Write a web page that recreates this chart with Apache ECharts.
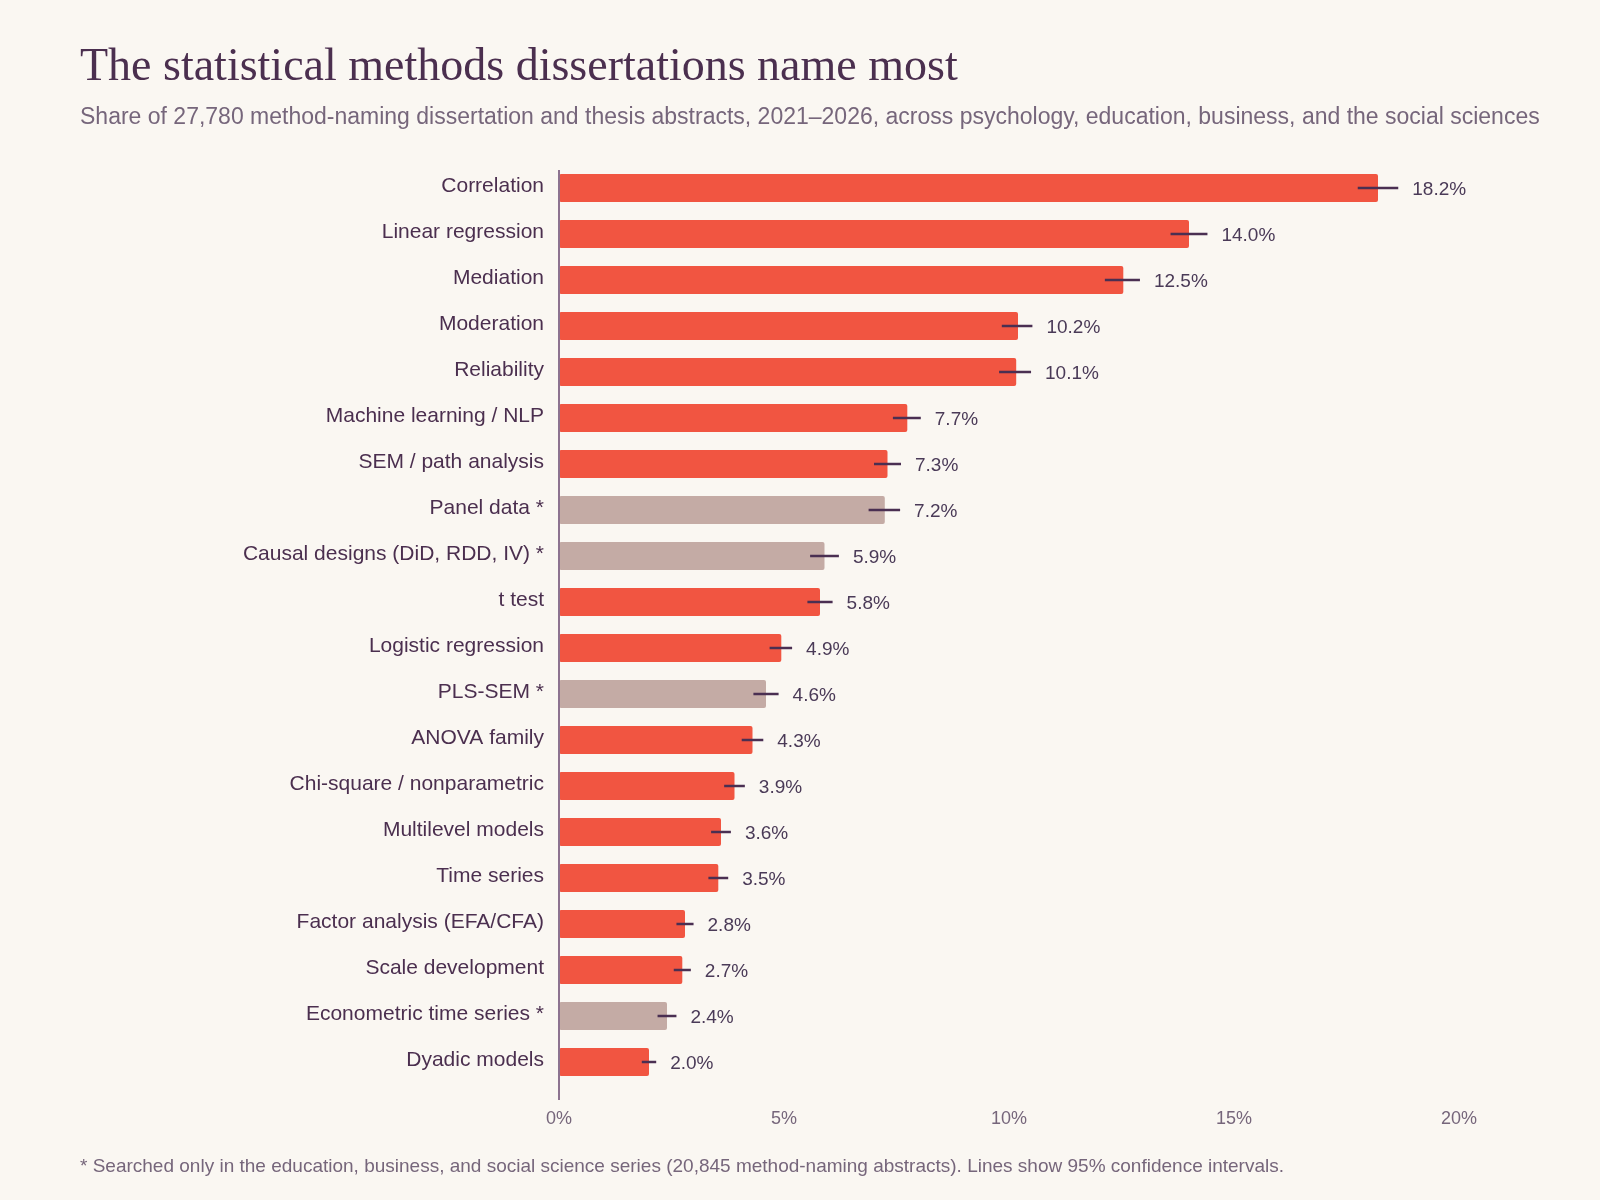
<!DOCTYPE html>
<html>
<head>
<meta charset="utf-8">
<script src="https://cdn.jsdelivr.net/npm/echarts@6/dist/echarts.min.js"></script>
<style>
  html, body { margin: 0; padding: 0; background: #faf7f2; }
  #chart { width: 1600px; height: 1200px; }
</style>
</head>
<body>
<div id="chart"></div>
<script>
// ---- data (top-level named arrays) ----
const categories = [
  "Correlation", "Linear regression", "Mediation", "Moderation", "Reliability",
  "Machine learning / NLP", "SEM / path analysis", "Panel data *",
  "Causal designs (DiD, RDD, IV) *", "t test", "Logistic regression", "PLS-SEM *",
  "ANOVA family", "Chi-square / nonparametric", "Multilevel models", "Time series",
  "Factor analysis (EFA/CFA)", "Scale development", "Econometric time series *", "Dyadic models"
];
// bar lengths (unrounded estimates)
const shares = [18.2, 14.0, 12.54, 10.2, 10.16, 7.74, 7.3, 7.24, 5.9, 5.8, 4.94, 4.6, 4.3, 3.9, 3.6, 3.54, 2.8, 2.74, 2.4, 2.0];
// printed value labels
const shareLabels = ["18.2%", "14.0%", "12.5%", "10.2%", "10.1%", "7.7%", "7.3%", "7.2%", "5.9%", "5.8%", "4.9%", "4.6%", "4.3%", "3.9%", "3.6%", "3.5%", "2.8%", "2.7%", "2.4%", "2.0%"];
const ciLow  = [17.75, 13.59, 12.13, 9.84, 9.78, 7.42, 7.0, 6.88, 5.58, 5.52, 4.68, 4.32, 4.06, 3.67, 3.38, 3.32, 2.61, 2.55, 2.19, 1.84];
const ciHigh = [18.65, 14.41, 12.91, 10.52, 10.49, 8.04, 7.6, 7.58, 6.22, 6.08, 5.18, 4.88, 4.54, 4.13, 3.82, 3.76, 2.99, 2.93, 2.61, 2.16];
const subsetOnly = [false, false, false, false, false, false, false, true, true, false, false, true, false, false, false, false, false, false, true, false];
const xTicks = [0, 5, 10, 15, 20];

const titleText = "The statistical methods dissertations name most";
const subtitleText = "Share of 27,780 method-naming dissertation and thesis abstracts, 2021\u20132026, across psychology, education, business, and the social sciences";
const footnoteText = "* Searched only in the education, business, and social science series (20,845 method-naming abstracts). Lines show 95% confidence intervals.";

// ---- styles ----
const RED = "#f15541";
const GREY = "#c4aba5";
const INK = "#4b2f4f";
const MUTED = "#76667b";
const SANS = "'Liberation Sans', Arial, sans-serif";

const chart = echarts.init(document.getElementById('chart'));

const barData = shares.map((v, i) => ({
  value: v,
  itemStyle: { color: subsetOnly[i] ? GREY : RED }
}));
const ciData = shares.map((v, i) => [i, ciLow[i], ciHigh[i], v]);

function renderCI(params, api) {
  const idx = api.value(0);
  const lo = api.coord([api.value(1), idx]);
  const hi = api.coord([api.value(2), idx]);
  return {
    type: 'group',
    children: [
      { type: 'line', shape: { x1: lo[0], y1: lo[1], x2: hi[0], y2: hi[1] },
        style: { stroke: "#4a2f52", lineWidth: 2.5 } },
      { type: 'text', x: hi[0] + 14, y: hi[1] + 2,
        style: { text: shareLabels[params.dataIndex], fill: "#4a3a57", font: "19px " + SANS,
                 verticalAlign: 'middle', align: 'left' } }
    ]
  };
}

chart.setOption({
  backgroundColor: "#faf7f2",
  animation: false,
  title: [
    { text: titleText, left: 80, top: 45, padding: 0,
      textStyle: { fontFamily: "'Liberation Serif', 'Times New Roman', serif", fontSize: 46, fontWeight: 'normal', color: INK } },
    { text: subtitleText, left: 80, top: 106, padding: 0,
      textStyle: { fontFamily: SANS, fontSize: 23, fontWeight: 'normal', color: MUTED } },
    { text: footnoteText, left: 80, top: 1157, padding: 0,
      textStyle: { fontFamily: SANS, fontSize: 19, fontWeight: 'normal', color: MUTED } }
  ],
  grid: { left: 559, right: 141, top: 165, bottom: 115, containLabel: false },
  xAxis: {
    type: 'value', min: xTicks[0], max: xTicks[xTicks.length - 1], interval: 5,
    axisLine: { show: false }, axisTick: { show: false }, splitLine: { show: false },
    axisLabel: { formatter: '{value}%', color: MUTED, fontFamily: SANS, fontSize: 18, margin: 25 }
  },
  yAxis: {
    type: 'category', data: categories, inverse: true,
    axisLine: { show: false },
    axisTick: { show: false },
    axisLabel: {
      margin: 15,
      formatter: (v) => '{c|' + v + '}',
      rich: { c: { color: INK, fontFamily: SANS, fontSize: 21, padding: [0, 0, 3.5, 0] } }
    }
  },
  series: [
    { type: 'bar', data: barData, barWidth: 28, itemStyle: { borderRadius: 2 } },
    { type: 'custom', renderItem: renderCI, data: ciData,
      encode: { x: [1, 2], y: 0 }, z: 5 }
  ]
});

// vertical baseline at 0%, extended slightly beyond the category band
const x0 = chart.convertToPixel({ xAxisIndex: 0 }, 0);
chart.setOption({
  graphic: [{
    type: 'line', z: 10,
    shape: { x1: x0, y1: 170, x2: x0, y2: 1100 },
    style: { stroke: "#8c7390", lineWidth: 2 }
  }]
});
</script>
</body>
</html>
